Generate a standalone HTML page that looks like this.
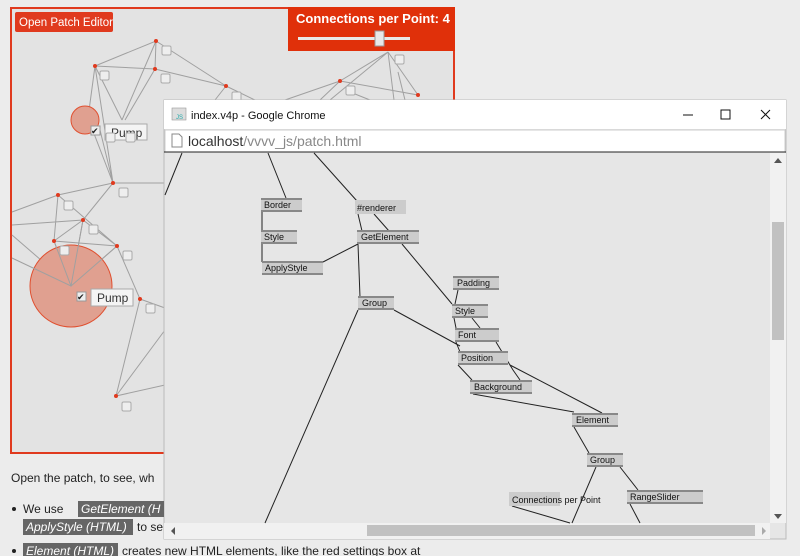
<!DOCTYPE html>
<html><head><meta charset="utf-8"><style>
html,body{margin:0;padding:0;background:#ececec;width:800px;height:556px;overflow:hidden}
svg{display:block}
text{font-family:"Liberation Sans","DejaVu Sans",sans-serif}
</style></head><body>
<svg width="800" height="556" viewBox="0 0 800 556" xmlns="http://www.w3.org/2000/svg">
<!-- left demo box -->
<rect x="11" y="8" width="443" height="445" fill="#e3e3e3" stroke="#e03a1e" stroke-width="2"/>
<g stroke="#a0a0a0" stroke-width="1" fill="none">
<path d="M95,66 L156,41 L155,69 L95,66 M156,41 L226,86 L155,69 L226,86 M95,66 L88,118 M95,66 L113,183 M95,66 L122,120 M156,41 L122,120 M155,69 L125,120 M113,183 L58,195 L12,212 M113,183 L83,220 L12,225 M113,183 L165,183 M58,195 L54,241 L117,246 L83,220 L54,241 M58,195 L117,246 M83,220 L71,286 L54,241 M12,235 L71,286 L117,246 M117,246 L140,299 L116,396 L165,330 M140,299 L165,308 M116,396 L165,385 M88,118 L113,183 L100,130 M226,86 L215,100 M226,86 L255,100 M340,81 L388,52 M340,81 L418,95 L388,52 L394,100 M340,81 L285,100 M340,81 L320,100 M388,52 L330,100 M398,72 L405,100 M350,92 L370,100"/>
</g>
<circle cx="85" cy="120" r="14" fill="#e0a090" stroke="#e05030" stroke-width="1"/>
<circle cx="71" cy="286" r="41" fill="#e0a090" stroke="#e05030" stroke-width="1"/>
<g stroke="#a0a0a0" stroke-width="1" fill="none"><path d="M54,241 L71,286 L117,246 M83,220 L71,286 L12,258"/></g>
<g fill="#e03a1e">
<circle cx="156" cy="41" r="2"/><circle cx="95" cy="66" r="2"/><circle cx="155" cy="69" r="2"/><circle cx="226" cy="86" r="2"/><circle cx="113" cy="183" r="2"/><circle cx="58" cy="195" r="2"/><circle cx="83" cy="220" r="2"/><circle cx="54" cy="241" r="2"/><circle cx="117" cy="246" r="2"/><circle cx="140" cy="299" r="2"/><circle cx="116" cy="396" r="2"/><circle cx="340" cy="81" r="2"/><circle cx="418" cy="95" r="2"/>
</g>
<g fill="#eeeeee" stroke="#aaaaaa" stroke-width="1">
<rect x="162" y="46" width="9" height="9" rx="1.5"/><rect x="100" y="71" width="9" height="9" rx="1.5"/><rect x="161" y="74" width="9" height="9" rx="1.5"/><rect x="232" y="92" width="9" height="9" rx="1.5"/><rect x="119" y="188" width="9" height="9" rx="1.5"/><rect x="64" y="201" width="9" height="9" rx="1.5"/><rect x="89" y="225" width="9" height="9" rx="1.5"/><rect x="60" y="246" width="9" height="9" rx="1.5"/><rect x="123" y="251" width="9" height="9" rx="1.5"/><rect x="146" y="304" width="9" height="9" rx="1.5"/><rect x="122" y="402" width="9" height="9" rx="1.5"/><rect x="395" y="55" width="9" height="9" rx="1.5"/><rect x="346" y="86" width="9" height="9" rx="1.5"/>
</g>
<!-- pump 1 -->
<rect x="105" y="124" width="42" height="16" fill="#f4f4f4" stroke="#aaa"/>
<text x="111" y="137" font-size="12" fill="#333">Pump</text>
<rect x="91" y="126" width="9" height="9" fill="#eee" stroke="#999"/>
<text x="91" y="134" font-size="9" fill="#222">✔</text>
<rect x="106" y="133" width="9" height="9" fill="#eee" stroke="#aaa" rx="1.5"/><rect x="126" y="133" width="9" height="9" fill="#eee" stroke="#aaa" rx="1.5"/>
<!-- pump 2 -->
<rect x="91" y="289" width="42" height="17" fill="#f4f4f4" stroke="#aaa"/>
<text x="97" y="302" font-size="12" fill="#333">Pump</text>
<rect x="77" y="292" width="9" height="9" fill="#eee" stroke="#999"/>
<text x="77" y="300" font-size="9" fill="#222">✔</text>
<!-- buttons -->
<rect x="15" y="12" width="98" height="20" rx="2" fill="#e03a1e"/>
<text x="19" y="26" font-size="11.5" fill="#fff">Open Patch Editor</text>
<rect x="288" y="7" width="167" height="44" fill="#e0300a"/>
<text x="296" y="23" font-size="13" font-weight="bold" fill="#fff">Connections per Point: 4</text>
<rect x="298" y="37" width="112" height="3" fill="#e8e8e8"/>
<rect x="375" y="31" width="9" height="15" fill="#e8e8e8" stroke="#999"/>
<!-- chrome window -->
<rect x="164" y="100" width="622" height="439" fill="#e6e6e6" stroke="#bbb"/>
<rect x="164" y="100" width="622" height="29" fill="#fff"/>
<rect x="172" y="108" width="14" height="12" fill="#ddd" stroke="#999" stroke-width=".6"/>
<text x="176" y="119" font-size="6" fill="#2aa">JS</text>
<text x="191" y="119" font-size="11" fill="#111">index.v4p - Google Chrome</text>
<line x1="683" y1="115" x2="693" y2="115" stroke="#111"/>
<rect x="721" y="110" width="9" height="9" fill="none" stroke="#111"/>
<path d="M761,110 L770,119 M770,110 L761,119" stroke="#111"/>
<rect x="165" y="130" width="620" height="22" fill="#fff" stroke="#ccc"/>
<line x1="164" y1="152" x2="786" y2="152" stroke="#222"/>
<path d="M172,134 L179,134 L182,137 L182,147 L172,147 Z" fill="#fff" stroke="#888"/>
<text x="188" y="146" font-size="14" fill="#333">localhost<tspan fill="#888">/vvvv_js/patch.html</tspan></text>
<!-- scrollbars -->
<rect x="770" y="153" width="16" height="370" fill="#f1f1f1"/>
<rect x="772" y="222" width="12" height="118" fill="#c1c1c1"/>
<path d="M774,163 L778,158 L782,163Z M774,514 L778,519 L782,514Z" fill="#555"/>
<rect x="164" y="523" width="606" height="16" fill="#f1f1f1"/>
<rect x="367" y="525" width="388" height="11" fill="#c1c1c1"/>
<path d="M175,527 L171,531 L175,535Z" fill="#555"/><path d="M762,527 L766,531 L762,535Z" fill="#aaa"/>
<!-- patch links -->
<g stroke="#222" stroke-width="1" fill="none">
<path d="M182,153 L165,195 M268,153 L286,198 M314,153 L357,201 M262,212 L262,262 M358,214 L362,231 M374,214 L389,231 M358,244 L360,297 M323,262 L358,244 M402,244 L452,304 M394,310 L460,346 M458,290 L455,304 M454,318 L456,328 M472,318 L480,328 M456,342 L460,352 M496,342 L513,370 L520,380 M458,365 L472,380 M510,365 L602,413 M473,394 L574,412 M574,427 L589,453 M358,310 L265,523 M596,467 L572,523 M620,467 L638,490 M630,504 L640,523 M512,506 L570,523"/>
</g>
<g font-size="9" fill="#111">
<g fill="#ccc"><rect x="261" y="198" width="41" height="14"/><rect x="355" y="200" width="51" height="14"/><rect x="261" y="230" width="36" height="14"/><rect x="357" y="230" width="62" height="14"/><rect x="262" y="261" width="61" height="14"/><rect x="358" y="296" width="36" height="14"/><rect x="453" y="276" width="46" height="14"/><rect x="452" y="304" width="36" height="14"/><rect x="455" y="328" width="44" height="14"/><rect x="458" y="351" width="50" height="14"/><rect x="470" y="380" width="62" height="14"/><rect x="572" y="413" width="46" height="14"/><rect x="587" y="453" width="36" height="14"/><rect x="509" y="492" width="51" height="14"/><rect x="627" y="490" width="76" height="14"/></g>
<g fill="#888"><rect x="261" y="198" width="41" height="2"/><rect x="261" y="210" width="41" height="2"/><rect x="261" y="230" width="36" height="2"/><rect x="261" y="242" width="36" height="2"/><rect x="357" y="230" width="62" height="2"/><rect x="357" y="242" width="62" height="2"/><rect x="262" y="261" width="61" height="2"/><rect x="262" y="273" width="61" height="2"/><rect x="358" y="296" width="36" height="2"/><rect x="358" y="308" width="36" height="2"/><rect x="453" y="276" width="46" height="2"/><rect x="453" y="288" width="46" height="2"/><rect x="452" y="304" width="36" height="2"/><rect x="452" y="316" width="36" height="2"/><rect x="455" y="328" width="44" height="2"/><rect x="455" y="340" width="44" height="2"/><rect x="458" y="351" width="50" height="2"/><rect x="458" y="363" width="50" height="2"/><rect x="470" y="380" width="62" height="2"/><rect x="470" y="392" width="62" height="2"/><rect x="572" y="413" width="46" height="2"/><rect x="572" y="425" width="46" height="2"/><rect x="587" y="453" width="36" height="2"/><rect x="587" y="465" width="36" height="2"/><rect x="627" y="490" width="76" height="2"/><rect x="627" y="502" width="76" height="2"/></g>
<text x="264" y="208">Border</text><text x="357" y="211">#renderer</text><text x="264" y="240">Style</text><text x="361" y="240">GetElement</text><text x="265" y="271">ApplyStyle</text><text x="362" y="306">Group</text><text x="457" y="286">Padding</text><text x="455" y="314">Style</text><text x="458" y="338">Font</text><text x="461" y="361">Position</text><text x="474" y="390">Background</text><text x="576" y="423">Element</text><text x="590" y="463">Group</text><text x="512" y="503">Connections per Point</text><text x="630" y="500">RangeSlider</text>
</g>
<!-- body text -->
<g font-size="12" fill="#222">
<text x="11" y="482">Open the patch, to see, wh</text>
<circle cx="14" cy="509" r="2" fill="#222"/>
<text x="23" y="513">We  use</text>
<rect x="78" y="501" width="86" height="16" fill="#666"/>
<text x="81" y="513" fill="#fff" font-style="italic">GetElement  (H</text>
<rect x="23" y="519" width="110" height="16" fill="#666"/>
<text x="26" y="531" fill="#fff" font-style="italic">ApplyStyle (HTML)</text>
<text x="137" y="531">to se</text>
<circle cx="14" cy="551" r="2" fill="#222"/>
<rect x="23" y="543" width="95" height="16" fill="#666"/>
<text x="26" y="555" fill="#fff" font-style="italic">Element (HTML)</text>
<text x="122" y="555">creates new HTML elements, like the red settings box at</text>
</g>
</svg>
</body></html>
